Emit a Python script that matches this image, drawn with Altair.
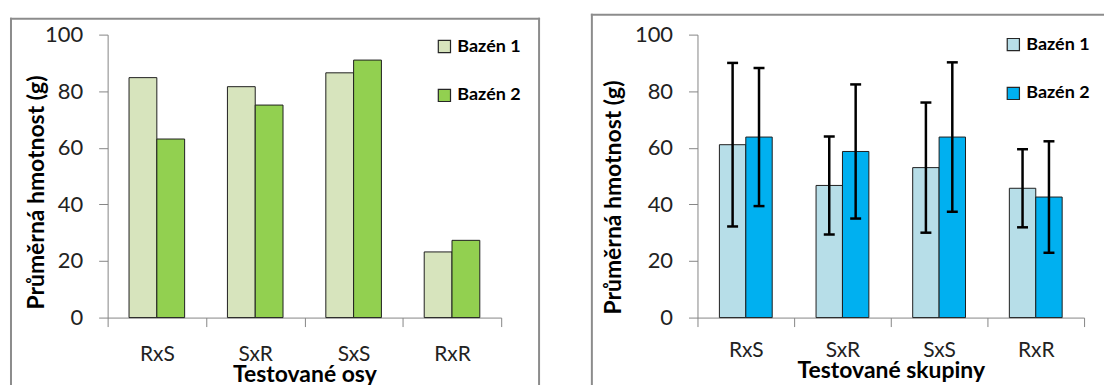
import altair as alt
import pandas as pd

# ---- data ----
kategorie = ["RxS", "SxR", "SxS", "RxR"]
bazeny = ["Bazén 1", "Bazén 2"]

osy_bazen1 = [84.8, 81.6, 86.5, 23.2]
osy_bazen2 = [63.1, 75.1, 91.0, 27.3]

skupiny_bazen1 = [61.1, 46.7, 53.0, 45.7]
skupiny_bazen2 = [63.8, 58.7, 63.8, 42.6]
skupiny_sd1 = [28.9, 17.3, 23.0, 13.8]
skupiny_sd2 = [24.4, 23.7, 26.4, 19.7]

y_ticks = [0, 20, 40, 60, 80, 100]

barvy_osy = ["#d7e4bd", "#92d050"]
barvy_skupiny = ["#b7dee8", "#00b0f0"]

FONT = "Lato"
FRAME = "#8c8c8c"
AXIS_GRAY = "#868686"
YTITLE = "Průměrná hmotnost (g)"


def long(v1, v2, s1=None, s2=None):
    rows = []
    for i, k in enumerate(kategorie):
        for b, vals, sds in ((bazeny[0], v1, s1), (bazeny[1], v2, s2)):
            r = {"kat": k, "bazen": b, "hodnota": vals[i]}
            if sds is not None:
                r["lo"] = vals[i] - sds[i]
                r["hi"] = vals[i] + sds[i]
            rows.append(r)
    return pd.DataFrame(rows)


def panel(df, colors, xtitle, w, h, pad_outer, leg_x, leg_y, yt_x, yt_y, xt_y,
          lab_pad_x, f_left, f_top, f_right, f_bottom, right_edge, errors):
    x = alt.X("kat:N", sort=kategorie,
              scale=alt.Scale(paddingInner=0, paddingOuter=0),
              axis=alt.Axis(title=xtitle, labelAngle=0, tickBand="extent",
                            tickSize=9, tickColor=AXIS_GRAY, domainColor=AXIS_GRAY,
                            labelFont=FONT, labelFontSize=21, labelColor="#222222",
                            labelPadding=lab_pad_x, labelBaseline="alphabetic",
                            titleFont=FONT, titleFontSize=23, titleFontWeight="bold",
                            titleColor="black", titleX=w / 2, titleY=xt_y,
                            titleBaseline="alphabetic", titleAlign="center"))
    xo = alt.XOffset("bazen:N", sort=bazeny,
                     scale=alt.Scale(paddingInner=0, paddingOuter=pad_outer))
    yax = alt.Axis(title=YTITLE, values=y_ticks, grid=False, tickSize=9,
                   tickColor=AXIS_GRAY, domainColor=AXIS_GRAY,
                   labelFont=FONT, labelFontSize=22, labelColor="#222222",
                   labelPadding=16,
                   titleFont=FONT, titleFontSize=23, titleFontWeight="bold",
                   titleColor="black", titleX=yt_x, titleY=yt_y,
                   titleAlign="center", titleBaseline="middle", titleAngle=270)
    y = alt.Y("hodnota:Q", scale=alt.Scale(domain=[0, 100], nice=False), axis=yax)
    color = alt.Color("bazen:N", scale=alt.Scale(domain=bazeny, range=colors),
                      legend=alt.Legend(title=None, orient="none", legendX=leg_x,
                                        legendY=leg_y, symbolType="square",
                                        symbolSize=150, symbolStrokeColor="#262626",
                                        symbolStrokeWidth=1.2, symbolOpacity=1,
                                        labelFont=FONT, labelFontSize=18,
                                        labelFontWeight="bold", labelColor="black",
                                        labelOffset=4, rowPadding=31, padding=0))
    bars = alt.Chart(df).mark_bar(stroke="#1f1f1f", strokeWidth=1, opacity=1).encode(
        x=x, xOffset=xo, y=y, color=color)
    layers = [bars]
    if errors:
        ylo = alt.Y("lo:Q", title=YTITLE)
        yhi = alt.Y("hi:Q", title=YTITLE)
        rule = alt.Chart(df).mark_rule(color="black", strokeWidth=2.5).encode(
            x=x, xOffset=xo, y=ylo, y2="hi:Q")
        cap_lo = alt.Chart(df).mark_tick(color="black", thickness=2.5, size=11,
                                         orient="horizontal", opacity=1).encode(
            x=x, xOffset=xo, y=ylo)
        cap_hi = alt.Chart(df).mark_tick(color="black", thickness=2.5, size=11,
                                         orient="horizontal", opacity=1).encode(
            x=x, xOffset=xo, y=yhi)
        layers += [rule, cap_lo, cap_hi]
    one = pd.DataFrame({"z": [0]})
    top = alt.Chart(one).mark_rule(color=FRAME, strokeWidth=2, strokeCap="square").encode(
        x=alt.value(f_left), x2=alt.value(f_right), y=alt.value(f_top))
    left = alt.Chart(one).mark_rule(color=FRAME, strokeWidth=2, strokeCap="square").encode(
        x=alt.value(f_left), y=alt.value(f_top), y2=alt.value(f_bottom))
    layers += [top, left]
    if right_edge:
        right = alt.Chart(one).mark_rule(color=FRAME, strokeWidth=2, strokeCap="square").encode(
            x=alt.value(f_right), y=alt.value(f_top), y2=alt.value(f_bottom))
        layers.append(right)
    return alt.layer(*layers).properties(width=w, height=h)


df_osy = long(osy_bazen1, osy_bazen2)
df_sk = long(skupiny_bazen1, skupiny_bazen2, skupiny_sd1, skupiny_sd2)

levy = panel(df_osy, barvy_osy, "Testované osy", 395, 284, 0.77,
             leg_x=329, leg_y=3, yt_x=-71, yt_y=158, xt_y=64, lab_pad_x=34,
             f_left=-97, f_top=-16, f_right=433, f_bottom=363,
             right_edge=True, errors=False)

pravy = panel(df_sk, barvy_skupiny, "Testované skupiny", 388, 284, 0.83,
              leg_x=308, leg_y=1, yt_x=-84, yt_y=163, xt_y=60, lab_pad_x=30,
              f_left=-106, f_top=-20, f_right=407, f_bottom=359,
              right_edge=False, errors=True)

chart = alt.hconcat(levy, pravy, spacing=49).resolve_scale(
    color="independent", x="independent", y="independent", xOffset="independent"
).resolve_legend(color="independent").properties(
    padding={"left": 1, "top": 4, "right": 0, "bottom": 0}
).configure_view(stroke=None)

chart.save("out.html", embed_options={"renderer": "svg", "actions": False})
